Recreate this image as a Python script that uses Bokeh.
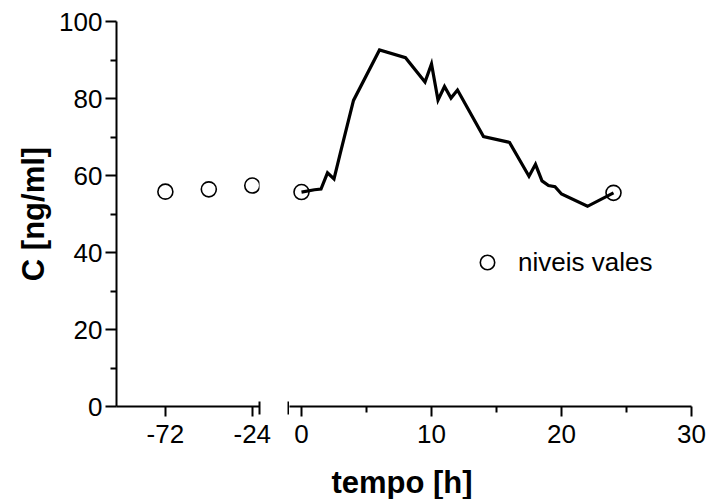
from bokeh.plotting import figure
from bokeh.layouts import row, column
from bokeh.models import FixedTicker, Legend, LegendItem, Title
from bokeh.embed import file_html
from bokeh.resources import INLINE

# ---- data ----
time_h = [0, 1, 1.5, 2, 2.5, 3, 4, 6, 8, 9.5, 10, 10.5, 11, 11.5, 12, 14, 16,
          17.5, 18, 18.5, 19, 19.5, 20, 22, 24]
conc = [55.7, 56.3, 56.5, 60.7, 59.1, 66.0, 79.5, 92.6, 90.6, 84.3, 89.0, 79.6,
        83.1, 80.1, 82.2, 70.1, 68.6, 59.8, 62.9, 58.6, 57.4, 57.1, 55.2, 52.0, 55.5]
trough_t = [-72, -48, -24, 0, 24]
trough_c = [55.8, 56.4, 57.4, 55.7, 55.5]
y_ticks = [0, 20, 40, 60, 80, 100]
y_minor = [10, 30, 50, 70, 90]
left_ticks = [-72, -24]
left_labels = {-72: "-72", -24: "-24"}
right_ticks = [0, 10, 20, 30]
right_minor = [5, 15, 25]

# ---- layout constants ----
FONT = "Liberation Sans"
H = 463
TOP = 21
FRAME_H = 385
BOTTOM = H - TOP - FRAME_H
XL = (-99, -20)          # left (pre-dose) segment, hours
PXH = 13.0               # px per hour on the right segment
XR = (-1 + 1 / PXH, 30)  # right segment, hours
YR = (0, 100)
CAP_UP, CAP_DOWN = 5, 8


def base_fig(**kw):
    p = figure(height=H, output_backend="svg", toolbar_location=None, title=None,
               y_range=YR, min_border_top=TOP, min_border_bottom=BOTTOM,
               outline_line_color=None, background_fill_color="white",
               border_fill_color="white", **kw)
    p.xgrid.grid_line_color = None
    p.ygrid.grid_line_color = None
    return p


def style_axis(ax):
    ax.axis_line_width = 2
    ax.axis_line_color = "black"
    ax.major_tick_line_width = 2
    ax.minor_tick_line_width = 2
    ax.major_tick_line_color = "black"
    ax.minor_tick_line_color = "black"
    ax.major_tick_in = 0
    ax.minor_tick_in = 0
    ax.major_label_text_font = FONT
    ax.major_label_text_font_size = "26px"
    ax.major_label_text_color = "black"
    ax.axis_label_text_font = FONT
    ax.axis_label_text_font_size = "31px"
    ax.axis_label_text_font_style = "bold"
    ax.axis_label_text_color = "black"


# ---- left segment (pre-dose troughs) ----
p1 = base_fig(width=272, x_range=XL, min_border_left=116, min_border_right=13)
style_axis(p1.xaxis[0])
style_axis(p1.yaxis[0])
# major ticks carry labels; the single "minor" tick is the break cap at the segment end
p1.xaxis.ticker = FixedTicker(ticks=left_ticks, minor_ticks=[XL[1]])
p1.xaxis.major_label_overrides = left_labels
p1.xaxis.major_tick_out = 10
p1.xaxis.minor_tick_out = CAP_DOWN
p1.xaxis.minor_tick_in = CAP_UP
p1.xaxis.major_label_standoff = 8
p1.yaxis.ticker = FixedTicker(ticks=y_ticks, minor_ticks=y_minor)
p1.yaxis.major_tick_out = 11
p1.yaxis.minor_tick_out = 6
p1.yaxis.major_label_standoff = 3
p1.yaxis.axis_label = "C [ng/ml]"
p1.yaxis.axis_label_standoff = 5

lt = [t for t in trough_t if t < 0]
lc = [c for t, c in zip(trough_t, trough_c) if t < 0]
p1.scatter(lt, lc, marker="circle", size=15, fill_color=None,
           line_color="black", line_width=1.6)

# ---- narrow gap panel: carries the break cap of the right segment ----
pm = base_fig(width=17, x_range=(-1 - 16 / PXH, XR[0]), y_axis_location=None,
              min_border_left=0, min_border_right=0)
style_axis(pm.xaxis[0])
pm.xaxis.axis_line_color = None
pm.xaxis.ticker = FixedTicker(ticks=[], minor_ticks=[-1])
pm.xaxis.minor_tick_out = CAP_DOWN
pm.xaxis.minor_tick_in = CAP_UP

# ---- right segment (0-30 h profile) ----
p2 = base_fig(width=417, x_range=XR, y_axis_location=None,
              min_border_left=0, min_border_right=15)
style_axis(p2.xaxis[0])
p2.xaxis.ticker = FixedTicker(ticks=right_ticks, minor_ticks=right_minor)
p2.xaxis.major_tick_out = 10
p2.xaxis.minor_tick_out = 6
p2.xaxis.major_label_standoff = 8

p2.line(time_h, conc, line_width=3.2, line_color="black", line_join="miter")
rt = [t for t in trough_t if t >= 0]
rc = [c for t, c in zip(trough_t, trough_c) if t >= 0]
r_tr = p2.scatter(rt, rc, marker="circle", size=15, fill_color=None,
                  line_color="black", line_width=1.6)

legend = Legend(items=[LegendItem(label="niveis vales", renderers=[r_tr])],
                location=(180, 126), border_line_color=None, background_fill_alpha=0,
                padding=0, margin=0, spacing=0, glyph_width=36, glyph_height=36,
                label_standoff=13, label_text_font=FONT, label_text_font_size="26px",
                label_text_color="black")
p2.add_layout(legend)

# ---- strip below the axes carrying the x-axis title, centred on the broken axis ----
p3 = figure(width=706, height=36, output_backend="svg", toolbar_location=None,
            x_axis_location=None, y_axis_location=None, outline_line_color=None,
            min_border_left=112, min_border_right=15, min_border_top=0, min_border_bottom=0,
            background_fill_color="white", border_fill_color="white",
            title=Title(text="tempo [h]", align="center", standoff=0, text_font=FONT,
                        text_font_size="31px", text_font_style="bold", text_color="black"))
p3.xgrid.grid_line_color = None
p3.ygrid.grid_line_color = None

layout = column(row(p1, pm, p2), p3)
open("out.html", "w").write(file_html(layout, INLINE))
